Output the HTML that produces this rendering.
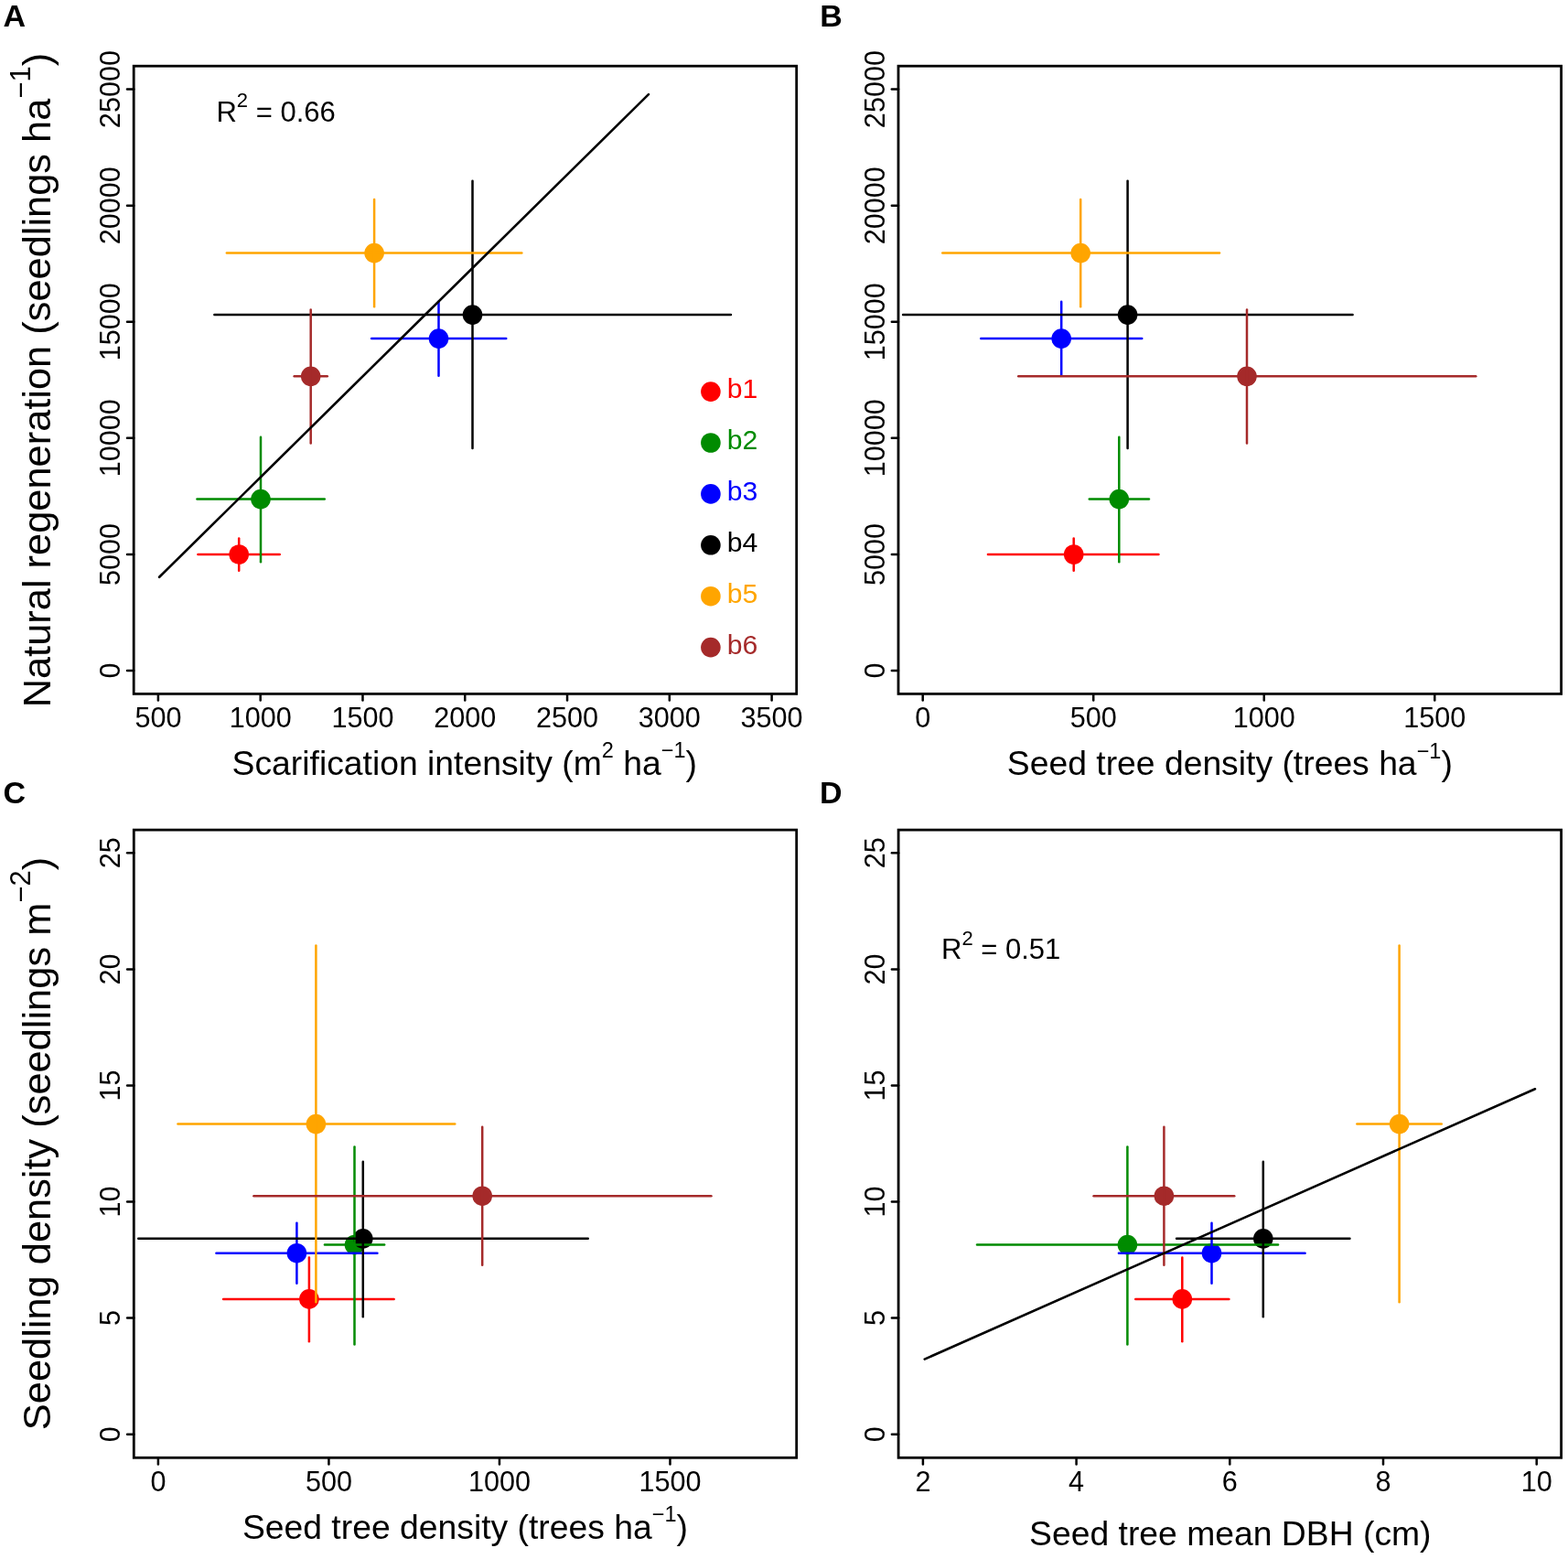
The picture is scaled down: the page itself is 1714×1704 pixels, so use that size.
<!DOCTYPE html>
<html><head><meta charset="utf-8"><title>Figure</title>
<style>html,body{margin:0;padding:0;background:#fff;}svg{display:block;}</style>
</head><body>
<svg width="1714" height="1704" viewBox="0 0 1714 1704" font-family='"Liberation Sans", Arial, Helvetica, sans-serif' fill="#000">
<rect x="0" y="0" width="1714" height="1704" fill="#fff"/>
<text x="3.55" y="29.1" font-size="34" font-weight="bold">A</text>
<text x="896.2" y="29.1" font-size="34" font-weight="bold">B</text>
<text x="3.5" y="877.5" font-size="34" font-weight="bold">C</text>
<text x="896" y="877.5" font-size="34" font-weight="bold">D</text>
<rect x="146.2" y="72.2" width="724.5" height="686.2" fill="none" stroke="#000" stroke-width="2.8"/>
<rect x="982" y="72.2" width="724.6" height="686.2" fill="none" stroke="#000" stroke-width="2.8"/>
<rect x="146.3" y="907.1" width="724.4" height="686.2" fill="none" stroke="#000" stroke-width="2.8"/>
<rect x="982.1" y="907.1" width="724.5" height="686.2" fill="none" stroke="#000" stroke-width="2.8"/>
<line x1="139" y1="733" x2="146.2" y2="733" stroke="#000" stroke-width="2.5" stroke-linecap="round"/>
<text transform="translate(131.3,733) rotate(-90)" text-anchor="middle" font-size="30.6">0</text>
<line x1="139" y1="605.92" x2="146.2" y2="605.92" stroke="#000" stroke-width="2.5" stroke-linecap="round"/>
<text transform="translate(131.3,605.92) rotate(-90)" text-anchor="middle" font-size="30.6">5000</text>
<line x1="139" y1="478.84" x2="146.2" y2="478.84" stroke="#000" stroke-width="2.5" stroke-linecap="round"/>
<text transform="translate(131.3,478.84) rotate(-90)" text-anchor="middle" font-size="30.6">10000</text>
<line x1="139" y1="351.76" x2="146.2" y2="351.76" stroke="#000" stroke-width="2.5" stroke-linecap="round"/>
<text transform="translate(131.3,351.76) rotate(-90)" text-anchor="middle" font-size="30.6">15000</text>
<line x1="139" y1="224.68" x2="146.2" y2="224.68" stroke="#000" stroke-width="2.5" stroke-linecap="round"/>
<text transform="translate(131.3,224.68) rotate(-90)" text-anchor="middle" font-size="30.6">20000</text>
<line x1="139" y1="97.6" x2="146.2" y2="97.6" stroke="#000" stroke-width="2.5" stroke-linecap="round"/>
<text transform="translate(131.3,97.6) rotate(-90)" text-anchor="middle" font-size="30.6">25000</text>
<line x1="974.8" y1="733" x2="982" y2="733" stroke="#000" stroke-width="2.5" stroke-linecap="round"/>
<text transform="translate(967.1,733) rotate(-90)" text-anchor="middle" font-size="30.6">0</text>
<line x1="974.8" y1="605.92" x2="982" y2="605.92" stroke="#000" stroke-width="2.5" stroke-linecap="round"/>
<text transform="translate(967.1,605.92) rotate(-90)" text-anchor="middle" font-size="30.6">5000</text>
<line x1="974.8" y1="478.84" x2="982" y2="478.84" stroke="#000" stroke-width="2.5" stroke-linecap="round"/>
<text transform="translate(967.1,478.84) rotate(-90)" text-anchor="middle" font-size="30.6">10000</text>
<line x1="974.8" y1="351.76" x2="982" y2="351.76" stroke="#000" stroke-width="2.5" stroke-linecap="round"/>
<text transform="translate(967.1,351.76) rotate(-90)" text-anchor="middle" font-size="30.6">15000</text>
<line x1="974.8" y1="224.68" x2="982" y2="224.68" stroke="#000" stroke-width="2.5" stroke-linecap="round"/>
<text transform="translate(967.1,224.68) rotate(-90)" text-anchor="middle" font-size="30.6">20000</text>
<line x1="974.8" y1="97.6" x2="982" y2="97.6" stroke="#000" stroke-width="2.5" stroke-linecap="round"/>
<text transform="translate(967.1,97.6) rotate(-90)" text-anchor="middle" font-size="30.6">25000</text>
<line x1="139.1" y1="1567.7" x2="146.3" y2="1567.7" stroke="#000" stroke-width="2.5" stroke-linecap="round"/>
<text transform="translate(131.3,1567.7) rotate(-90)" text-anchor="middle" font-size="30.6">0</text>
<line x1="139.1" y1="1440.62" x2="146.3" y2="1440.62" stroke="#000" stroke-width="2.5" stroke-linecap="round"/>
<text transform="translate(131.3,1440.62) rotate(-90)" text-anchor="middle" font-size="30.6">5</text>
<line x1="139.1" y1="1313.54" x2="146.3" y2="1313.54" stroke="#000" stroke-width="2.5" stroke-linecap="round"/>
<text transform="translate(131.3,1313.54) rotate(-90)" text-anchor="middle" font-size="30.6">10</text>
<line x1="139.1" y1="1186.46" x2="146.3" y2="1186.46" stroke="#000" stroke-width="2.5" stroke-linecap="round"/>
<text transform="translate(131.3,1186.46) rotate(-90)" text-anchor="middle" font-size="30.6">15</text>
<line x1="139.1" y1="1059.38" x2="146.3" y2="1059.38" stroke="#000" stroke-width="2.5" stroke-linecap="round"/>
<text transform="translate(131.3,1059.38) rotate(-90)" text-anchor="middle" font-size="30.6">20</text>
<line x1="139.1" y1="932.3" x2="146.3" y2="932.3" stroke="#000" stroke-width="2.5" stroke-linecap="round"/>
<text transform="translate(131.3,932.3) rotate(-90)" text-anchor="middle" font-size="30.6">25</text>
<line x1="974.9" y1="1567.7" x2="982.1" y2="1567.7" stroke="#000" stroke-width="2.5" stroke-linecap="round"/>
<text transform="translate(967.1,1567.7) rotate(-90)" text-anchor="middle" font-size="30.6">0</text>
<line x1="974.9" y1="1440.62" x2="982.1" y2="1440.62" stroke="#000" stroke-width="2.5" stroke-linecap="round"/>
<text transform="translate(967.1,1440.62) rotate(-90)" text-anchor="middle" font-size="30.6">5</text>
<line x1="974.9" y1="1313.54" x2="982.1" y2="1313.54" stroke="#000" stroke-width="2.5" stroke-linecap="round"/>
<text transform="translate(967.1,1313.54) rotate(-90)" text-anchor="middle" font-size="30.6">10</text>
<line x1="974.9" y1="1186.46" x2="982.1" y2="1186.46" stroke="#000" stroke-width="2.5" stroke-linecap="round"/>
<text transform="translate(967.1,1186.46) rotate(-90)" text-anchor="middle" font-size="30.6">15</text>
<line x1="974.9" y1="1059.38" x2="982.1" y2="1059.38" stroke="#000" stroke-width="2.5" stroke-linecap="round"/>
<text transform="translate(967.1,1059.38) rotate(-90)" text-anchor="middle" font-size="30.6">20</text>
<line x1="974.9" y1="932.3" x2="982.1" y2="932.3" stroke="#000" stroke-width="2.5" stroke-linecap="round"/>
<text transform="translate(967.1,932.3) rotate(-90)" text-anchor="middle" font-size="30.6">25</text>
<line x1="172.9" y1="758.4" x2="172.9" y2="765.6" stroke="#000" stroke-width="2.5" stroke-linecap="round"/>
<text x="172.9" y="795.2" text-anchor="middle" font-size="30.6">500</text>
<line x1="284.69" y1="758.4" x2="284.69" y2="765.6" stroke="#000" stroke-width="2.5" stroke-linecap="round"/>
<text x="284.69" y="795.2" text-anchor="middle" font-size="30.6">1000</text>
<line x1="396.47" y1="758.4" x2="396.47" y2="765.6" stroke="#000" stroke-width="2.5" stroke-linecap="round"/>
<text x="396.47" y="795.2" text-anchor="middle" font-size="30.6">1500</text>
<line x1="508.25" y1="758.4" x2="508.25" y2="765.6" stroke="#000" stroke-width="2.5" stroke-linecap="round"/>
<text x="508.25" y="795.2" text-anchor="middle" font-size="30.6">2000</text>
<line x1="620.04" y1="758.4" x2="620.04" y2="765.6" stroke="#000" stroke-width="2.5" stroke-linecap="round"/>
<text x="620.04" y="795.2" text-anchor="middle" font-size="30.6">2500</text>
<line x1="731.82" y1="758.4" x2="731.82" y2="765.6" stroke="#000" stroke-width="2.5" stroke-linecap="round"/>
<text x="731.82" y="795.2" text-anchor="middle" font-size="30.6">3000</text>
<line x1="843.61" y1="758.4" x2="843.61" y2="765.6" stroke="#000" stroke-width="2.5" stroke-linecap="round"/>
<text x="843.61" y="795.2" text-anchor="middle" font-size="30.6">3500</text>
<line x1="1008.7" y1="758.4" x2="1008.7" y2="765.6" stroke="#000" stroke-width="2.5" stroke-linecap="round"/>
<text x="1008.7" y="795.2" text-anchor="middle" font-size="30.6">0</text>
<line x1="1195.23" y1="758.4" x2="1195.23" y2="765.6" stroke="#000" stroke-width="2.5" stroke-linecap="round"/>
<text x="1195.23" y="795.2" text-anchor="middle" font-size="30.6">500</text>
<line x1="1381.75" y1="758.4" x2="1381.75" y2="765.6" stroke="#000" stroke-width="2.5" stroke-linecap="round"/>
<text x="1381.75" y="795.2" text-anchor="middle" font-size="30.6">1000</text>
<line x1="1568.28" y1="758.4" x2="1568.28" y2="765.6" stroke="#000" stroke-width="2.5" stroke-linecap="round"/>
<text x="1568.28" y="795.2" text-anchor="middle" font-size="30.6">1500</text>
<line x1="172.9" y1="1593.3" x2="172.9" y2="1600.5" stroke="#000" stroke-width="2.5" stroke-linecap="round"/>
<text x="172.9" y="1630.1" text-anchor="middle" font-size="30.6">0</text>
<line x1="359.43" y1="1593.3" x2="359.43" y2="1600.5" stroke="#000" stroke-width="2.5" stroke-linecap="round"/>
<text x="359.43" y="1630.1" text-anchor="middle" font-size="30.6">500</text>
<line x1="545.95" y1="1593.3" x2="545.95" y2="1600.5" stroke="#000" stroke-width="2.5" stroke-linecap="round"/>
<text x="545.95" y="1630.1" text-anchor="middle" font-size="30.6">1000</text>
<line x1="732.48" y1="1593.3" x2="732.48" y2="1600.5" stroke="#000" stroke-width="2.5" stroke-linecap="round"/>
<text x="732.48" y="1630.1" text-anchor="middle" font-size="30.6">1500</text>
<line x1="1008.9" y1="1593.3" x2="1008.9" y2="1600.5" stroke="#000" stroke-width="2.5" stroke-linecap="round"/>
<text x="1008.9" y="1630.1" text-anchor="middle" font-size="30.6">2</text>
<line x1="1176.6" y1="1593.3" x2="1176.6" y2="1600.5" stroke="#000" stroke-width="2.5" stroke-linecap="round"/>
<text x="1176.6" y="1630.1" text-anchor="middle" font-size="30.6">4</text>
<line x1="1344.3" y1="1593.3" x2="1344.3" y2="1600.5" stroke="#000" stroke-width="2.5" stroke-linecap="round"/>
<text x="1344.3" y="1630.1" text-anchor="middle" font-size="30.6">6</text>
<line x1="1512" y1="1593.3" x2="1512" y2="1600.5" stroke="#000" stroke-width="2.5" stroke-linecap="round"/>
<text x="1512" y="1630.1" text-anchor="middle" font-size="30.6">8</text>
<line x1="1679.7" y1="1593.3" x2="1679.7" y2="1600.5" stroke="#000" stroke-width="2.5" stroke-linecap="round"/>
<text x="1679.7" y="1630.1" text-anchor="middle" font-size="30.6">10</text>
<circle cx="261.2" cy="606" r="10.8" fill="#FF0000"/>
<circle cx="285" cy="545.6" r="10.8" fill="#008B00"/>
<circle cx="479.5" cy="370.1" r="10.8" fill="#0000FF"/>
<circle cx="516.5" cy="344.1" r="10.8" fill="#000000"/>
<circle cx="409.1" cy="276.6" r="10.8" fill="#FFA500"/>
<circle cx="339.7" cy="411.3" r="10.8" fill="#A52A2A"/>
<line x1="216.45" y1="606" x2="305.75" y2="606" stroke="#FF0000" stroke-width="2.5" stroke-linecap="round"/>
<line x1="261.2" y1="588.45" x2="261.2" y2="623.85" stroke="#FF0000" stroke-width="2.5" stroke-linecap="round"/>
<line x1="215.45" y1="545.6" x2="354.75" y2="545.6" stroke="#008B00" stroke-width="2.5" stroke-linecap="round"/>
<line x1="285" y1="477.75" x2="285" y2="614.15" stroke="#008B00" stroke-width="2.5" stroke-linecap="round"/>
<line x1="406.15" y1="370.1" x2="553.25" y2="370.1" stroke="#0000FF" stroke-width="2.5" stroke-linecap="round"/>
<line x1="479.5" y1="329.75" x2="479.5" y2="410.75" stroke="#0000FF" stroke-width="2.5" stroke-linecap="round"/>
<line x1="234.35" y1="344.1" x2="798.95" y2="344.1" stroke="#000000" stroke-width="2.5" stroke-linecap="round"/>
<line x1="516.5" y1="197.85" x2="516.5" y2="490.05" stroke="#000000" stroke-width="2.5" stroke-linecap="round"/>
<line x1="247.85" y1="276.6" x2="570.35" y2="276.6" stroke="#FFA500" stroke-width="2.5" stroke-linecap="round"/>
<line x1="409.1" y1="217.95" x2="409.1" y2="335.15" stroke="#FFA500" stroke-width="2.5" stroke-linecap="round"/>
<line x1="321.65" y1="411.3" x2="357.75" y2="411.3" stroke="#A52A2A" stroke-width="2.5" stroke-linecap="round"/>
<line x1="339.7" y1="338.55" x2="339.7" y2="484.55" stroke="#A52A2A" stroke-width="2.5" stroke-linecap="round"/>
<circle cx="1173.7" cy="606" r="10.8" fill="#FF0000"/>
<circle cx="1223.3" cy="545.6" r="10.8" fill="#008B00"/>
<circle cx="1160.2" cy="370.1" r="10.8" fill="#0000FF"/>
<circle cx="1232.6" cy="344.1" r="10.8" fill="#000000"/>
<circle cx="1181.2" cy="276.6" r="10.8" fill="#FFA500"/>
<circle cx="1363" cy="411.3" r="10.8" fill="#A52A2A"/>
<line x1="1079.95" y1="606" x2="1266.45" y2="606" stroke="#FF0000" stroke-width="2.5" stroke-linecap="round"/>
<line x1="1173.7" y1="588.45" x2="1173.7" y2="623.85" stroke="#FF0000" stroke-width="2.5" stroke-linecap="round"/>
<line x1="1190.75" y1="545.6" x2="1255.95" y2="545.6" stroke="#008B00" stroke-width="2.5" stroke-linecap="round"/>
<line x1="1223.3" y1="477.75" x2="1223.3" y2="614.15" stroke="#008B00" stroke-width="2.5" stroke-linecap="round"/>
<line x1="1072.25" y1="370.1" x2="1248.25" y2="370.1" stroke="#0000FF" stroke-width="2.5" stroke-linecap="round"/>
<line x1="1160.2" y1="329.75" x2="1160.2" y2="410.75" stroke="#0000FF" stroke-width="2.5" stroke-linecap="round"/>
<line x1="987.05" y1="344.1" x2="1478.55" y2="344.1" stroke="#000000" stroke-width="2.5" stroke-linecap="round"/>
<line x1="1232.6" y1="197.85" x2="1232.6" y2="490.05" stroke="#000000" stroke-width="2.5" stroke-linecap="round"/>
<line x1="1030.25" y1="276.6" x2="1333.05" y2="276.6" stroke="#FFA500" stroke-width="2.5" stroke-linecap="round"/>
<line x1="1181.2" y1="217.95" x2="1181.2" y2="335.15" stroke="#FFA500" stroke-width="2.5" stroke-linecap="round"/>
<line x1="1113.25" y1="411.3" x2="1613.25" y2="411.3" stroke="#A52A2A" stroke-width="2.5" stroke-linecap="round"/>
<line x1="1363" y1="338.55" x2="1363" y2="484.55" stroke="#A52A2A" stroke-width="2.5" stroke-linecap="round"/>
<circle cx="337.9" cy="1419.9" r="10.8" fill="#FF0000"/>
<circle cx="387.5" cy="1360.6" r="10.8" fill="#008B00"/>
<circle cx="324.4" cy="1369.7" r="10.8" fill="#0000FF"/>
<circle cx="396.8" cy="1353.8" r="10.8" fill="#000000"/>
<circle cx="345.4" cy="1228.6" r="10.8" fill="#FFA500"/>
<circle cx="527.2" cy="1307.2" r="10.8" fill="#A52A2A"/>
<line x1="244.15" y1="1419.9" x2="430.65" y2="1419.9" stroke="#FF0000" stroke-width="2.5" stroke-linecap="round"/>
<line x1="337.9" y1="1374.45" x2="337.9" y2="1466.25" stroke="#FF0000" stroke-width="2.5" stroke-linecap="round"/>
<line x1="354.95" y1="1360.6" x2="420.15" y2="1360.6" stroke="#008B00" stroke-width="2.5" stroke-linecap="round"/>
<line x1="387.5" y1="1253.55" x2="387.5" y2="1469.45" stroke="#008B00" stroke-width="2.5" stroke-linecap="round"/>
<line x1="236.45" y1="1369.7" x2="412.45" y2="1369.7" stroke="#0000FF" stroke-width="2.5" stroke-linecap="round"/>
<line x1="324.4" y1="1336.75" x2="324.4" y2="1402.75" stroke="#0000FF" stroke-width="2.5" stroke-linecap="round"/>
<line x1="151.25" y1="1353.8" x2="642.75" y2="1353.8" stroke="#000000" stroke-width="2.5" stroke-linecap="round"/>
<line x1="396.8" y1="1269.75" x2="396.8" y2="1439.15" stroke="#000000" stroke-width="2.5" stroke-linecap="round"/>
<line x1="194.45" y1="1228.6" x2="497.25" y2="1228.6" stroke="#FFA500" stroke-width="2.5" stroke-linecap="round"/>
<line x1="345.4" y1="1033.45" x2="345.4" y2="1423.25" stroke="#FFA500" stroke-width="2.5" stroke-linecap="round"/>
<line x1="277.45" y1="1307.2" x2="777.45" y2="1307.2" stroke="#A52A2A" stroke-width="2.5" stroke-linecap="round"/>
<line x1="527.2" y1="1231.75" x2="527.2" y2="1382.75" stroke="#A52A2A" stroke-width="2.5" stroke-linecap="round"/>
<circle cx="1292.3" cy="1419.9" r="10.8" fill="#FF0000"/>
<circle cx="1232.4" cy="1360.6" r="10.8" fill="#008B00"/>
<circle cx="1324.5" cy="1369.7" r="10.8" fill="#0000FF"/>
<circle cx="1380.8" cy="1353.8" r="10.8" fill="#000000"/>
<circle cx="1529.6" cy="1228.6" r="10.8" fill="#FFA500"/>
<circle cx="1272.4" cy="1307.2" r="10.8" fill="#A52A2A"/>
<line x1="1241.25" y1="1419.9" x2="1343.35" y2="1419.9" stroke="#FF0000" stroke-width="2.5" stroke-linecap="round"/>
<line x1="1292.3" y1="1374.45" x2="1292.3" y2="1466.25" stroke="#FF0000" stroke-width="2.5" stroke-linecap="round"/>
<line x1="1068.05" y1="1360.6" x2="1397.05" y2="1360.6" stroke="#008B00" stroke-width="2.5" stroke-linecap="round"/>
<line x1="1232.4" y1="1253.55" x2="1232.4" y2="1469.45" stroke="#008B00" stroke-width="2.5" stroke-linecap="round"/>
<line x1="1222.95" y1="1369.7" x2="1426.55" y2="1369.7" stroke="#0000FF" stroke-width="2.5" stroke-linecap="round"/>
<line x1="1324.5" y1="1336.75" x2="1324.5" y2="1402.75" stroke="#0000FF" stroke-width="2.5" stroke-linecap="round"/>
<line x1="1286.05" y1="1353.8" x2="1475.45" y2="1353.8" stroke="#000000" stroke-width="2.5" stroke-linecap="round"/>
<line x1="1380.8" y1="1269.75" x2="1380.8" y2="1439.15" stroke="#000000" stroke-width="2.5" stroke-linecap="round"/>
<line x1="1483.35" y1="1228.6" x2="1575.75" y2="1228.6" stroke="#FFA500" stroke-width="2.5" stroke-linecap="round"/>
<line x1="1529.6" y1="1033.45" x2="1529.6" y2="1423.25" stroke="#FFA500" stroke-width="2.5" stroke-linecap="round"/>
<line x1="1195.55" y1="1307.2" x2="1349.25" y2="1307.2" stroke="#A52A2A" stroke-width="2.5" stroke-linecap="round"/>
<line x1="1272.4" y1="1231.75" x2="1272.4" y2="1382.75" stroke="#A52A2A" stroke-width="2.5" stroke-linecap="round"/>
<line x1="174.13" y1="630.79" x2="708.97" y2="103.11" stroke="#000" stroke-width="2.6" stroke-linecap="round"/>
<line x1="1010.69" y1="1485.57" x2="1678.01" y2="1190.23" stroke="#000" stroke-width="2.6" stroke-linecap="round"/>
<circle cx="776.9" cy="428.1" r="10.8" fill="#FF0000"/>
<text x="794.7" y="435" font-size="30.2" fill="#FF0000">b1</text>
<circle cx="776.9" cy="484" r="10.8" fill="#008B00"/>
<text x="794.7" y="490.9" font-size="30.2" fill="#008B00">b2</text>
<circle cx="776.9" cy="539.9" r="10.8" fill="#0000FF"/>
<text x="794.7" y="546.8" font-size="30.2" fill="#0000FF">b3</text>
<circle cx="776.9" cy="595.8" r="10.8" fill="#000000"/>
<text x="794.7" y="602.7" font-size="30.2" fill="#000000">b4</text>
<circle cx="776.9" cy="651.7" r="10.8" fill="#FFA500"/>
<text x="794.7" y="658.6" font-size="30.2" fill="#FFA500">b5</text>
<circle cx="776.9" cy="707.6" r="10.8" fill="#A52A2A"/>
<text x="794.7" y="714.5" font-size="30.2" fill="#A52A2A">b6</text>
<text x="236.46" y="132.6" font-size="31">R<tspan font-size="22" dy="-15.3">2</tspan><tspan dy="15.3"> = 0.66</tspan></text>
<text x="1029.06" y="1048.3" font-size="31">R<tspan font-size="22" dy="-15.3">2</tspan><tspan dy="15.3"> = 0.51</tspan></text>
<text x="253.56" y="846.7" font-size="37.3">Scarification intensity (m<tspan font-size="23.5" dy="-18.5">2</tspan><tspan dy="18.5"> ha</tspan><tspan font-size="23.5" dy="-18.5">−1</tspan><tspan dy="18.5">)</tspan></text>
<text x="1100.81" y="847" font-size="37.3">Seed tree density (trees ha<tspan font-size="23.5" dy="-18.5">−1</tspan><tspan dy="18.5">)</tspan></text>
<text x="264.91" y="1681.7" font-size="37.3">Seed tree density (trees ha<tspan font-size="23.5" dy="-18.5">−1</tspan><tspan dy="18.5">)</tspan></text>
<text x="1125.11" y="1689.3" font-size="37.3">Seed tree mean DBH (cm)</text>
<text transform="translate(55.4,773.36) rotate(-90)" font-size="43.4">Natural regeneration (seedlings ha<tspan font-size="31" dy="-22.8">−1</tspan><tspan dy="22.8">)</tspan></text>
<text transform="translate(55.4,1563.17) rotate(-90)" font-size="43.4">Seedling density (seedlings m<tspan font-size="31" dy="-22.8">−2</tspan><tspan dy="22.8">)</tspan></text>
</svg>
</body></html>
